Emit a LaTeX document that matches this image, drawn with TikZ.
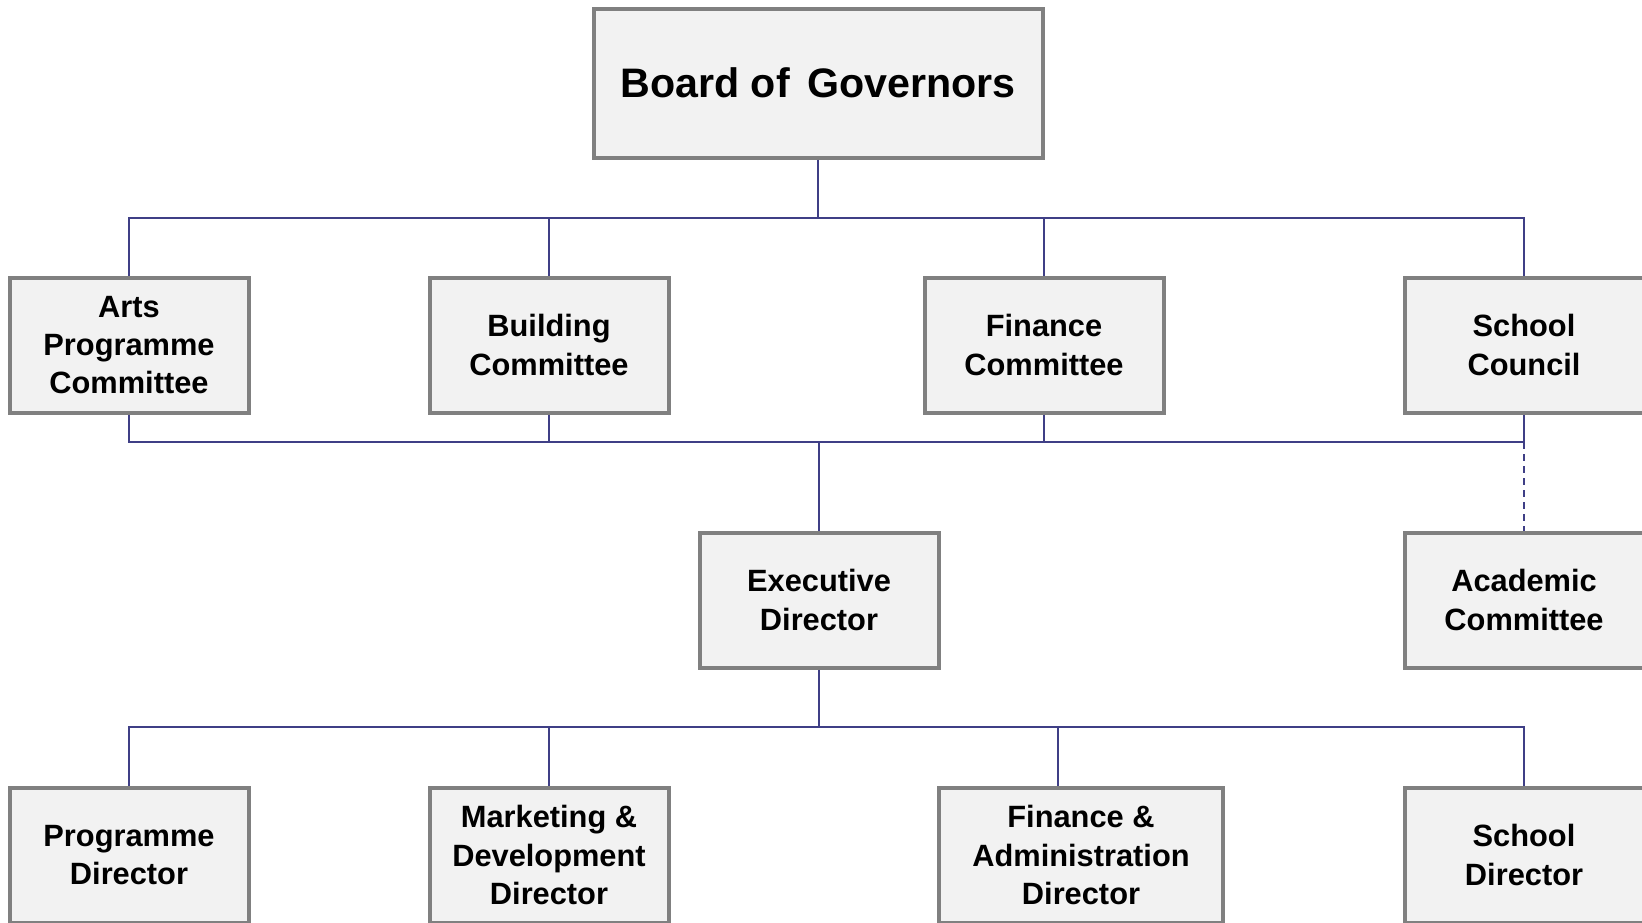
\documentclass[tikz,border=0pt]{standalone}
\usepackage{fontspec}
\setmainfont{Liberation Sans}
\usepackage{xcolor}

\definecolor{boxfill}{HTML}{F2F2F2}
\definecolor{boxline}{HTML}{808080}
\definecolor{linkblue}{HTML}{3F3F86}

\tikzset{
  unit/.style={draw=boxline, line width=2pt, fill=boxfill, align=center,
    minimum width=119.5pt, minimum height=67.5pt, inner sep=2pt,
    font=\fontsize{15.4}{19.1}\selectfont\bfseries},
  link/.style={draw=linkblue, line width=1pt},
}

\begin{document}
\begin{tikzpicture}[x=0.5pt, y=-0.5pt]
  \useasboundingbox (0,0) rectangle (1642,922);

  % Top of the chart
  \node[unit, minimum width=224.5pt, minimum height=74.5pt,
        font=\fontsize{20.6}{25}\selectfont\bfseries] (board) at (818,83) {Board of\hspace{0.42em}Governors};

  % Committees
  \node[unit] (arts) at (129,345) {Arts\\Programme\\Committee};
  \node[unit] (building) at (549,345) {Building\\Committee};
  \node[unit] (fincom) at (1044,345) {Finance\\Committee};
  \node[unit] (council) at (1524,345) {School\\Council};

  % Middle row
  \node[unit] (exec) at (819,600) {Executive\\Director};
  \node[unit] (academic) at (1524,600) {Academic\\Committee};

  % Directors
  \node[unit] (progdir) at (129,855) {Programme\\Director};
  \node[unit] (mktg) at (549,855) {Marketing \&\\Development\\Director};
  \node[unit, minimum width=142pt] (finadm) at (1081,855) {Finance \&\\Administration\\Director};
  \node[unit] (schooldir) at (1524,855) {School\\Director};

  % Bus points
  \coordinate (topbus) at (818,218);
  \coordinate (midbus) at (819,442);
  \coordinate (lowbus) at (819,727);
  \coordinate (finlink) at (1058,727);

  % Board to committees
  \draw[link] (board.south) -- (topbus);
  \draw[link] (arts.north) |- (topbus -| council) -- (council.north);
  \draw[link] (building.north) -- (building.north |- topbus);
  \draw[link] (fincom.north) -- (fincom.north |- topbus);

  % Committees to executive director
  \draw[link] (arts.south) |- (midbus -| council) -- (council.south);
  \draw[link] (building.south) -- (building.south |- midbus);
  \draw[link] (fincom.south) -- (fincom.south |- midbus);
  \draw[link] (midbus) -- (exec.north);
  \draw[link, dash pattern=on 3.5pt off 2.5pt] (midbus -| council) -- (academic.north);

  % Executive director to directors
  \draw[link] (exec.south) -- (lowbus);
  \draw[link] (progdir.north) |- (lowbus -| schooldir) -- (schooldir.north);
  \draw[link] (mktg.north) -- (mktg.north |- lowbus);
  \draw[link] (finlink) -- (finlink |- finadm.north);
\end{tikzpicture}
\end{document}
